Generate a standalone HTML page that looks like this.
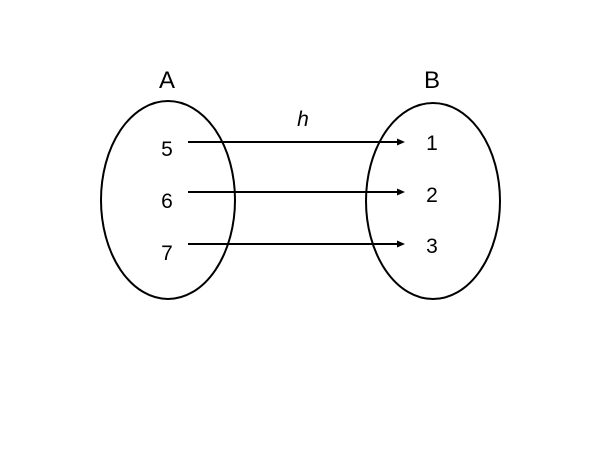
<!DOCTYPE html>
<html><head><meta charset="utf-8"><style>
html,body{margin:0;padding:0;background:#fff;}
svg{display:block;}
text{font-family:"Liberation Sans",sans-serif;fill:#000;}
</style></head><body>
<svg width="600" height="450" viewBox="0 0 600 450" xmlns="http://www.w3.org/2000/svg">
<rect width="600" height="450" fill="#fff"/>
<ellipse cx="168" cy="200" rx="67" ry="99" fill="none" stroke="#000" stroke-width="2"/>
<ellipse cx="433" cy="201" rx="67" ry="98" fill="none" stroke="#000" stroke-width="2"/>
<text x="167" y="88" font-size="24" text-anchor="middle">A</text>
<text x="432" y="88" font-size="24" text-anchor="middle">B</text>
<text x="303" y="126" font-size="21" font-style="italic" text-anchor="middle">h</text>
<g font-size="21" text-anchor="middle">
<text x="167" y="156">5</text>
<text x="167" y="208">6</text>
<text x="167" y="260">7</text>
<text x="432" y="150">1</text>
<text x="432" y="202">2</text>
<text x="432" y="253">3</text>
</g>
<g stroke="#000" stroke-width="2">
<line x1="188" y1="142" x2="399" y2="142"/>
<line x1="188" y1="192" x2="399" y2="192"/>
<line x1="188" y1="244" x2="399" y2="244"/>
</g>
<g fill="#000">
<polygon points="405,142 397,138.5 397,145.5"/>
<polygon points="405,192 397,188.5 397,195.5"/>
<polygon points="405,244 397,240.5 397,247.5"/>
</g>
</svg>
</body></html>
